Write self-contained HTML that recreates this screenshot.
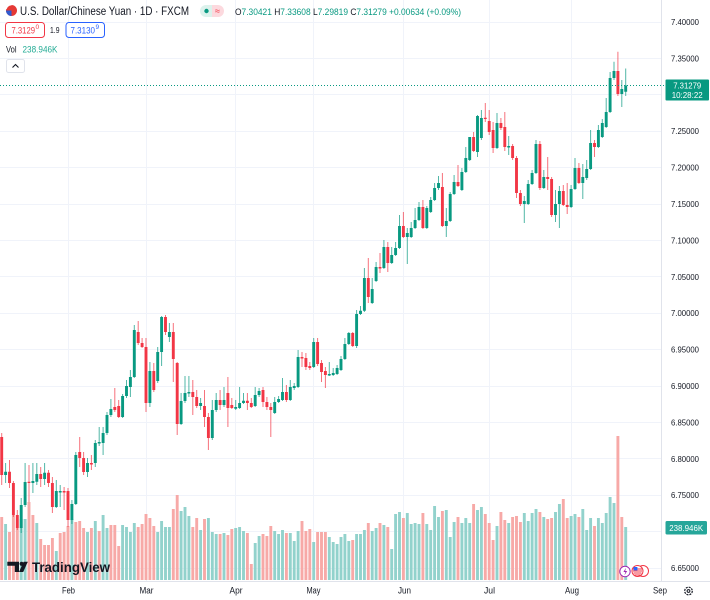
<!DOCTYPE html>
<html><head><meta charset="utf-8">
<style>
html,body{margin:0;padding:0;background:#fff;}
svg{display:block;font-family:"Liberation Sans",sans-serif;}
</style></head><body>
<svg width="710" height="600" viewBox="0 0 710 600" xmlns="http://www.w3.org/2000/svg">
<rect width="710" height="600" fill="#fff"/>
<g stroke="#f0f3fa" stroke-width="1" fill="none">
<path d="M0 22.5H661M0 58.5H661M0 94.5H661M0 131.5H661M0 167.5H661M0 204.5H661M0 240.5H661M0 276.5H661M0 313.5H661M0 349.5H661M0 386.5H661M0 422.5H661M0 458.5H661M0 495.5H661M0 531.5H661M0 568.5H661"/>
<path d="M68.5 0V581M146.5 0V581M235.5 0V581M313.5 0V581M403.5 0V581M489.5 0V581M571.5 0V581"/>
</g>
<path d="M661.5 0V581M0 581.5H710" stroke="#e0e3eb" stroke-width="1"/>

<path fill="#92d2cc" d="M4.15 524h2.9V580h-2.9zM19.75 519h2.9V580h-2.9zM23.65 519h2.9V580h-2.9zM35.35 523h2.9V580h-2.9zM54.85 551h2.9V580h-2.9zM70.45 519h2.9V580h-2.9zM86.05 532h2.9V580h-2.9zM93.85 521h2.9V580h-2.9zM101.65 515h2.9V580h-2.9zM105.55 528h2.9V580h-2.9zM121.15 525h2.9V580h-2.9zM125.05 527h2.9V580h-2.9zM128.95 532h2.9V580h-2.9zM132.85 523h2.9V580h-2.9zM156.25 532h2.9V580h-2.9zM160.15 521h2.9V580h-2.9zM164.05 527h2.9V580h-2.9zM167.95 527h2.9V580h-2.9zM179.65 511h2.9V580h-2.9zM183.55 507h2.9V580h-2.9zM187.45 516h2.9V580h-2.9zM199.15 530h2.9V580h-2.9zM206.95 518h2.9V580h-2.9zM210.85 532h2.9V580h-2.9zM214.75 534h2.9V580h-2.9zM222.55 533h2.9V580h-2.9zM234.25 528h2.9V580h-2.9zM238.15 527h2.9V580h-2.9zM242.05 531h2.9V580h-2.9zM253.75 543h2.9V580h-2.9zM257.65 536h2.9V580h-2.9zM273.25 531h2.9V580h-2.9zM277.15 534h2.9V580h-2.9zM281.05 530h2.9V580h-2.9zM288.85 533h2.9V580h-2.9zM292.75 541h2.9V580h-2.9zM296.65 531h2.9V580h-2.9zM312.25 542h2.9V580h-2.9zM327.85 537h2.9V580h-2.9zM331.75 542h2.9V580h-2.9zM335.65 544h2.9V580h-2.9zM339.55 537h2.9V580h-2.9zM343.45 534h2.9V580h-2.9zM347.35 541h2.9V580h-2.9zM355.15 534h2.9V580h-2.9zM359.05 534h2.9V580h-2.9zM362.95 530h2.9V580h-2.9zM370.75 531h2.9V580h-2.9zM374.65 528h2.9V580h-2.9zM382.45 525h2.9V580h-2.9zM390.25 549h2.9V580h-2.9zM394.15 514h2.9V580h-2.9zM398.05 512h2.9V580h-2.9zM405.85 513h2.9V580h-2.9zM409.75 524h2.9V580h-2.9zM413.65 523h2.9V580h-2.9zM417.55 524h2.9V580h-2.9zM425.35 524h2.9V580h-2.9zM429.25 530h2.9V580h-2.9zM433.15 506h2.9V580h-2.9zM437.05 517h2.9V580h-2.9zM444.85 510h2.9V580h-2.9zM448.75 537h2.9V580h-2.9zM452.65 522h2.9V580h-2.9zM460.45 523h2.9V580h-2.9zM464.35 518h2.9V580h-2.9zM468.25 523h2.9V580h-2.9zM476.05 510h2.9V580h-2.9zM479.95 507h2.9V580h-2.9zM495.55 526h2.9V580h-2.9zM507.25 523h2.9V580h-2.9zM522.85 513h2.9V580h-2.9zM526.75 521h2.9V580h-2.9zM530.65 513h2.9V580h-2.9zM534.55 509h2.9V580h-2.9zM542.35 517h2.9V580h-2.9zM554.05 512h2.9V580h-2.9zM557.95 504h2.9V580h-2.9zM569.65 516h2.9V580h-2.9zM573.55 514h2.9V580h-2.9zM581.35 509h2.9V580h-2.9zM585.25 530h2.9V580h-2.9zM589.15 518h2.9V580h-2.9zM596.95 518h2.9V580h-2.9zM600.85 523h2.9V580h-2.9zM604.75 513h2.9V580h-2.9zM608.65 497h2.9V580h-2.9zM612.55 503h2.9V580h-2.9zM624.25 527h2.9V580h-2.9z"/>
<path fill="#f7a9a7" d="M0.25 517h2.9V580h-2.9zM8.05 532h2.9V580h-2.9zM11.95 515h2.9V580h-2.9zM15.85 528h2.9V580h-2.9zM27.55 502h2.9V580h-2.9zM31.45 515h2.9V580h-2.9zM39.25 539h2.9V580h-2.9zM43.15 545h2.9V580h-2.9zM47.05 545h2.9V580h-2.9zM50.95 538h2.9V580h-2.9zM58.75 533h2.9V580h-2.9zM62.65 532h2.9V580h-2.9zM66.55 526h2.9V580h-2.9zM74.35 522h2.9V580h-2.9zM78.25 521h2.9V580h-2.9zM82.15 528h2.9V580h-2.9zM89.95 528h2.9V580h-2.9zM97.75 531h2.9V580h-2.9zM109.45 525h2.9V580h-2.9zM113.35 525h2.9V580h-2.9zM117.25 546h2.9V580h-2.9zM136.75 527h2.9V580h-2.9zM140.65 524h2.9V580h-2.9zM144.55 514h2.9V580h-2.9zM148.45 518h2.9V580h-2.9zM152.35 526h2.9V580h-2.9zM171.85 509h2.9V580h-2.9zM175.75 495h2.9V580h-2.9zM191.35 527h2.9V580h-2.9zM195.25 518h2.9V580h-2.9zM203.05 519h2.9V580h-2.9zM218.65 534h2.9V580h-2.9zM226.45 535h2.9V580h-2.9zM230.35 529h2.9V580h-2.9zM245.95 533h2.9V580h-2.9zM249.85 564h2.9V580h-2.9zM261.55 534h2.9V580h-2.9zM265.45 536h2.9V580h-2.9zM269.35 526h2.9V580h-2.9zM284.95 533h2.9V580h-2.9zM300.55 521h2.9V580h-2.9zM304.45 531h2.9V580h-2.9zM308.35 529h2.9V580h-2.9zM316.15 532h2.9V580h-2.9zM320.05 532h2.9V580h-2.9zM323.95 532h2.9V580h-2.9zM351.25 540h2.9V580h-2.9zM366.85 523h2.9V580h-2.9zM378.55 523h2.9V580h-2.9zM386.35 527h2.9V580h-2.9zM401.95 518h2.9V580h-2.9zM421.45 513h2.9V580h-2.9zM440.95 511h2.9V580h-2.9zM456.55 517h2.9V580h-2.9zM472.15 504h2.9V580h-2.9zM483.85 514h2.9V580h-2.9zM487.75 523h2.9V580h-2.9zM491.65 540h2.9V580h-2.9zM499.45 512h2.9V580h-2.9zM503.35 520h2.9V580h-2.9zM511.15 517h2.9V580h-2.9zM515.05 516h2.9V580h-2.9zM518.95 522h2.9V580h-2.9zM538.45 512h2.9V580h-2.9zM546.25 519h2.9V580h-2.9zM550.15 518h2.9V580h-2.9zM561.85 499h2.9V580h-2.9zM565.75 518h2.9V580h-2.9zM577.45 517h2.9V580h-2.9zM593.05 526h2.9V580h-2.9zM616.45 436h2.9V580h-2.9zM620.35 517h2.9V580h-2.9z"/>

<path stroke="#089981" stroke-opacity="0.7" stroke-width="1" fill="none" d="M5.6 463V483M21.2 498V533M25.1 463V507M32.9 463V493M36.8 463V485M44.6 463V485M56.3 480V508M60.2 485V507M71.9 500V524M75.8 452V505M87.5 458V477M95.3 440V467M99.2 427V446M103.1 427V455M107 412V435M110.9 399V417M122.6 394V418M126.5 380V398M130.4 370V397M134.3 325V378M149.9 362V407M157.7 347V383M161.6 316V366M169.4 323V342M181.1 393V425M185 376V403M188.9 376V397M200.6 398V410M212.3 400V440M216.2 393V412M224 387V407M235.7 400V410M239.6 387V409M243.5 393V404M255.2 387V407M259.1 388V397M274.7 397V414M278.6 396V403M282.5 378V401M290.3 380V401M294.2 383V390M298.1 350V388M313.7 338V368M329.3 362V376M333.2 368V376M337.1 365V375M341 356V371M344.9 338V360M348.8 332V345M356.6 310V348M360.5 306V315M364.4 268V312M372.2 278V304M376.1 262V282M383.9 240V269M391.7 247V264M395.6 242V256M399.5 215V249M407.3 228V264M411.2 222V238M415.1 208V229M419 202V221M426.8 206V229M430.7 197V213M434.6 183V201M438.5 176V190M446.3 208V237M450.2 192V222M454.1 175V195M461.9 168V191M465.8 147V173M469.7 137V161M477.5 115V157M481.4 110V140M497 113V149M508.7 136V155M524.3 196V223M528.2 180V205M532.1 170V185M536 140V174M543.8 170V189M555.5 190V222M559.4 186V228M571.1 185V208M575 158V190M582.8 164V199M586.7 160V180M590.6 130V170M598.4 125V148M602.3 119V138M606.2 98V128M610.1 72V113M614 61.7V80M621.8 80V107M625.7 68.5V96"/>
<path stroke="#f23645" stroke-opacity="0.7" stroke-width="1" fill="none" d="M1.7 433V485M9.5 460V488M13.4 481V517M17.3 510V530M29 465V502M40.7 467V487M48.5 470V487M52.4 477V513M64.1 487V510M68 488V527M79.7 437V467M83.6 452V475M91.4 455V470M114.8 388V412M118.7 400V418M138.2 321V345M142.1 338V348M146 338V412M153.8 363V392M165.5 315V335M173.3 323V382M177.2 362V435M192.8 380V415M196.7 390V408M204.5 390V427M208.4 413V450M220.1 390V410M227.9 377V427M231.8 398V409M247.4 393V410M251.3 398V408M263 387V407M266.9 397V410M270.8 403V437M286.4 385V402M302 352V367M305.9 353V370M309.8 362V370M317.6 338V366M321.5 360V382M325.4 367V388M352.7 332V347M368.3 258V303M380 253V273M387.8 242V272M403.4 212V238M422.9 200V229M442.4 173V227M458 165V187M473.6 132V152M485.3 103V122M489.2 110V135M493.1 122V153M500.9 118V130M504.8 112V151M512.6 144V160M516.5 156V198M520.4 190V206M539.9 141V190M547.7 157V190M551.6 177V217M563.3 185V206M567.2 183V214M578.9 163V184M594.5 140V157M617.9 51.7V96"/>

<path fill="#089981" d="M4.15 471.7h2.9V475h-2.9zM19.75 505h2.9V528h-2.9zM23.65 482h2.9V505h-2.9zM31.45 481h2.9V483h-2.9zM35.35 474h2.9V481.7h-2.9zM43.15 472.7h2.9V479h-2.9zM54.85 491h2.9V507h-2.9zM58.75 491h2.9V492.5h-2.9zM70.45 504h2.9V520h-2.9zM74.35 455h2.9V504h-2.9zM86.05 463h2.9V472h-2.9zM93.85 443h2.9V463h-2.9zM97.75 442h2.9V443.5h-2.9zM101.65 433h2.9V443h-2.9zM105.55 415h2.9V433h-2.9zM109.45 409h2.9V415h-2.9zM121.15 396h2.9V417h-2.9zM125.05 386h2.9V396h-2.9zM128.95 377h2.9V387h-2.9zM132.85 330h2.9V377h-2.9zM148.45 371h2.9V403h-2.9zM156.25 352h2.9V381h-2.9zM160.15 317h2.9V352h-2.9zM167.95 332h2.9V337h-2.9zM179.65 401h2.9V424h-2.9zM183.55 393h2.9V401h-2.9zM187.45 392h2.9V393.5h-2.9zM199.15 403h2.9V406h-2.9zM210.85 410h2.9V438h-2.9zM214.75 400h2.9V410h-2.9zM222.55 400h2.9V405h-2.9zM234.25 407h2.9V408.7h-2.9zM238.15 403h2.9V408h-2.9zM242.05 400.7h2.9V403h-2.9zM253.75 395h2.9V406h-2.9zM257.65 391h2.9V395h-2.9zM273.25 402h2.9V413h-2.9zM277.15 399h2.9V402h-2.9zM281.05 392h2.9V400h-2.9zM288.85 387h2.9V400h-2.9zM292.75 386h2.9V388h-2.9zM296.65 357h2.9V387h-2.9zM312.25 342h2.9V367h-2.9zM327.85 374h2.9V375.5h-2.9zM331.75 373h2.9V375h-2.9zM335.65 368h2.9V374h-2.9zM339.55 359h2.9V370h-2.9zM343.45 344h2.9V359h-2.9zM347.35 333h2.9V344h-2.9zM355.15 314h2.9V346h-2.9zM359.05 310.7h2.9V314h-2.9zM362.95 278h2.9V310.7h-2.9zM370.75 289h2.9V303h-2.9zM374.65 267h2.9V281h-2.9zM382.45 247h2.9V268h-2.9zM390.25 255h2.9V263h-2.9zM394.15 248h2.9V255h-2.9zM398.05 226h2.9V248h-2.9zM405.85 233h2.9V237h-2.9zM409.75 228h2.9V237h-2.9zM413.65 220h2.9V228h-2.9zM417.55 207h2.9V220h-2.9zM425.35 208h2.9V228h-2.9zM429.25 200h2.9V212h-2.9zM433.15 188h2.9V200h-2.9zM437.05 183h2.9V188h-2.9zM444.85 221h2.9V226h-2.9zM448.75 194h2.9V221h-2.9zM452.65 182h2.9V194h-2.9zM460.45 172h2.9V190h-2.9zM464.35 158h2.9V172h-2.9zM468.25 137h2.9V160h-2.9zM476.05 116h2.9V152h-2.9zM479.95 118h2.9V138h-2.9zM495.55 123h2.9V148h-2.9zM507.25 146h2.9V147.5h-2.9zM522.85 201h2.9V204h-2.9zM526.75 184h2.9V204h-2.9zM530.65 173h2.9V184h-2.9zM534.55 144h2.9V173h-2.9zM542.35 177h2.9V188h-2.9zM554.05 204h2.9V215h-2.9zM557.95 191h2.9V204h-2.9zM569.65 189h2.9V207h-2.9zM573.55 168h2.9V189h-2.9zM581.35 177h2.9V183h-2.9zM585.25 169h2.9V178h-2.9zM589.15 143h2.9V169h-2.9zM596.95 130h2.9V147h-2.9zM600.85 123h2.9V137h-2.9zM604.75 112h2.9V127h-2.9zM608.65 78h2.9V112h-2.9zM612.55 71h2.9V78h-2.9zM620.35 89h2.9V94h-2.9zM624.25 85.5h2.9V91.7h-2.9z"/>
<path fill="#f23645" d="M0.25 437h2.9V475h-2.9zM8.05 471.7h2.9V483h-2.9zM11.95 483h2.9V515h-2.9zM15.85 515h2.9V528h-2.9zM27.55 481.7h2.9V483h-2.9zM39.25 474h2.9V479h-2.9zM47.05 472.7h2.9V483h-2.9zM50.95 483h2.9V507h-2.9zM62.65 491h2.9V492.5h-2.9zM66.55 491h2.9V520h-2.9zM78.25 452h2.9V458h-2.9zM82.15 458h2.9V472h-2.9zM89.95 463h2.9V464.5h-2.9zM113.35 407h2.9V410h-2.9zM117.25 406h2.9V417h-2.9zM136.75 332h2.9V343h-2.9zM140.65 343h2.9V347h-2.9zM144.55 347h2.9V403h-2.9zM152.35 371h2.9V390h-2.9zM164.05 317h2.9V332h-2.9zM171.85 332h2.9V359h-2.9zM175.75 363h2.9V424h-2.9zM191.35 392h2.9V397h-2.9zM195.25 397h2.9V406h-2.9zM203.05 406h2.9V417h-2.9zM206.95 417h2.9V438h-2.9zM218.65 400h2.9V405h-2.9zM226.45 393h2.9V408h-2.9zM230.35 405h2.9V408h-2.9zM245.95 400.7h2.9V403h-2.9zM249.85 403h2.9V407h-2.9zM261.55 390h2.9V402h-2.9zM265.45 402h2.9V407h-2.9zM269.35 407h2.9V410h-2.9zM284.95 392h2.9V400h-2.9zM300.55 357h2.9V358.5h-2.9zM304.45 358h2.9V367h-2.9zM308.35 366h2.9V368h-2.9zM316.15 342h2.9V364h-2.9zM320.05 363h2.9V372h-2.9zM323.95 371h2.9V375h-2.9zM351.25 333h2.9V346h-2.9zM366.85 278h2.9V297h-2.9zM378.55 267h2.9V268.5h-2.9zM386.35 247h2.9V263h-2.9zM401.95 226h2.9V237h-2.9zM421.45 207h2.9V228h-2.9zM440.95 187h2.9V226h-2.9zM456.55 182h2.9V186h-2.9zM472.15 137h2.9V151h-2.9zM483.85 117.7h2.9V119h-2.9zM487.75 121h2.9V132h-2.9zM491.65 130h2.9V148h-2.9zM499.45 123h2.9V128h-2.9zM503.35 127h2.9V147h-2.9zM511.15 146h2.9V158h-2.9zM515.05 158h2.9V193h-2.9zM518.95 193h2.9V204h-2.9zM538.45 144h2.9V188h-2.9zM546.25 177h2.9V179h-2.9zM550.15 179h2.9V215h-2.9zM561.85 191h2.9V205h-2.9zM565.75 205h2.9V207h-2.9zM577.45 168h2.9V183h-2.9zM593.05 143h2.9V147h-2.9zM616.45 71h2.9V94h-2.9z"/>

<line x1="0" y1="85.5" x2="664" y2="85.5" stroke="#089981" stroke-width="1" stroke-dasharray="1 2"/>

<g font-size="8.5" fill="#131722">
<text x="671" y="25" textLength="28" lengthAdjust="spacingAndGlyphs">7.40000</text>
<text x="671" y="61.4" textLength="28" lengthAdjust="spacingAndGlyphs">7.35000</text>
<text x="671" y="134.2" textLength="28" lengthAdjust="spacingAndGlyphs">7.25000</text>
<text x="671" y="170.6" textLength="28" lengthAdjust="spacingAndGlyphs">7.20000</text>
<text x="671" y="207" textLength="28" lengthAdjust="spacingAndGlyphs">7.15000</text>
<text x="671" y="243.4" textLength="28" lengthAdjust="spacingAndGlyphs">7.10000</text>
<text x="671" y="279.8" textLength="28" lengthAdjust="spacingAndGlyphs">7.05000</text>
<text x="671" y="316.2" textLength="28" lengthAdjust="spacingAndGlyphs">7.00000</text>
<text x="671" y="352.6" textLength="28" lengthAdjust="spacingAndGlyphs">6.95000</text>
<text x="671" y="389" textLength="28" lengthAdjust="spacingAndGlyphs">6.90000</text>
<text x="671" y="425.4" textLength="28" lengthAdjust="spacingAndGlyphs">6.85000</text>
<text x="671" y="461.8" textLength="28" lengthAdjust="spacingAndGlyphs">6.80000</text>
<text x="671" y="498.2" textLength="28" lengthAdjust="spacingAndGlyphs">6.75000</text>
<text x="671" y="534.6" textLength="28" lengthAdjust="spacingAndGlyphs">6.70000</text>
<text x="671" y="571" textLength="28" lengthAdjust="spacingAndGlyphs">6.65000</text>
</g>

<rect x="665.5" y="79.5" width="43.5" height="21" rx="1" fill="#089981"/>
<text x="687.2" y="88.3" font-size="8.5" fill="#fff" text-anchor="middle" textLength="28" lengthAdjust="spacingAndGlyphs">7.31279</text>
<text x="687.2" y="97.8" font-size="8.5" fill="#fff" text-anchor="middle" textLength="31" lengthAdjust="spacingAndGlyphs">10:28:22</text>

<rect x="665.5" y="521" width="41.5" height="13.5" rx="1.5" fill="#26a69a"/>
<text x="686.2" y="531" font-size="8.5" fill="#fff" text-anchor="middle" textLength="34" lengthAdjust="spacingAndGlyphs">238.946K</text>

<g font-size="9" fill="#131722" text-anchor="middle">
<text x="68.5" y="593.5" textLength="13" lengthAdjust="spacingAndGlyphs">Feb</text>
<text x="146.5" y="593.5" textLength="14" lengthAdjust="spacingAndGlyphs">Mar</text>
<text x="236" y="593.5" textLength="13" lengthAdjust="spacingAndGlyphs">Apr</text>
<text x="313.5" y="593.5" textLength="14" lengthAdjust="spacingAndGlyphs">May</text>
<text x="404.5" y="593.5" textLength="13" lengthAdjust="spacingAndGlyphs">Jun</text>
<text x="489.5" y="593.5" textLength="11" lengthAdjust="spacingAndGlyphs">Jul</text>
<text x="572" y="593.5" textLength="14" lengthAdjust="spacingAndGlyphs">Aug</text>
<text x="660" y="593.5" textLength="14" lengthAdjust="spacingAndGlyphs">Sep</text>
</g>
<circle cx="688.5" cy="591" r="3.8" fill="none" stroke="#131722" stroke-width="1.2" stroke-dasharray="2 1"/>
<circle cx="688.5" cy="591" r="1.4" fill="none" stroke="#131722" stroke-width="1"/>

<!-- header -->
<circle cx="11.5" cy="10.5" r="5.5" fill="#e53935"/>
<path d="M6 10.5a5.5 5.5 0 0 0 5.5 5.5V10.5z" fill="#2f5bd0"/>
<path d="M6.2 9.2a5.5 5.5 0 0 1 5.3 -4.2" stroke="#fff" stroke-width="0.8" fill="none"/>
<text x="20" y="15" font-size="11.5" fill="#131722" textLength="169" lengthAdjust="spacingAndGlyphs">U.S. Dollar/Chinese Yuan · 1D · FXCM</text>
<path d="M206 5h6v12h-6a6 6 0 0 1 0-12z" fill="#dcf2ec"/>
<path d="M212 5h6a6 6 0 0 1 0 12h-6z" fill="#fcd9de"/>
<circle cx="206.5" cy="11" r="2.2" fill="#089981"/>
<text x="217.5" y="13.8" font-size="9" fill="#f23645" text-anchor="middle">≈</text>
<text x="235" y="15" font-size="9.5" fill="#089981" textLength="226" lengthAdjust="spacingAndGlyphs"><tspan fill="#131722">O</tspan>7.30421 <tspan fill="#131722">H</tspan>7.33608 <tspan fill="#131722">L</tspan>7.29819 <tspan fill="#131722">C</tspan>7.31279 +0.00634 (+0.09%)</text>

<rect x="5.5" y="22.5" width="39" height="15" rx="3" fill="#fff" stroke="#f23645" stroke-width="1"/>
<text x="11.5" y="33.3" font-size="9.5" fill="#f23645" textLength="23.5" lengthAdjust="spacingAndGlyphs">7.3129</text>
<text x="35.5" y="29" font-size="6.5" fill="#f23645">0</text>
<text x="50" y="33" font-size="8.5" fill="#131722" textLength="9.5" lengthAdjust="spacingAndGlyphs">1.9</text>
<rect x="66" y="22.5" width="38.5" height="15" rx="3" fill="#fff" stroke="#2962ff" stroke-width="1"/>
<text x="70.5" y="33.3" font-size="9.5" fill="#2962ff" textLength="24.5" lengthAdjust="spacingAndGlyphs">7.3130</text>
<text x="95.5" y="29" font-size="6.5" fill="#2962ff">9</text>

<text x="6" y="52.5" font-size="9" fill="#131722" textLength="10.5" lengthAdjust="spacingAndGlyphs">Vol</text>
<text x="22.5" y="52.5" font-size="9" fill="#22ab94" textLength="35" lengthAdjust="spacingAndGlyphs">238.946K</text>

<rect x="6.5" y="59.5" width="18" height="13" rx="2" fill="#fff" stroke="#e0e3eb" stroke-width="1"/>
<polyline points="12.5,67.5 15.5,64.5 18.5,67.5" fill="none" stroke="#131722" stroke-width="1.1"/>

<!-- TradingView logo -->
<path d="M7.3 561.7h11.7v10.3h-4.2v-6.3h-7.5z" fill="#131722"/>
<circle cx="21.6" cy="563.8" r="2.1" fill="#131722"/>
<path d="M23.6 561.7h4.2l-4.6 10.3h-4.2z" fill="#131722"/>
<text x="32" y="572" font-size="14" font-weight="bold" fill="#131722" textLength="78" lengthAdjust="spacingAndGlyphs">TradingView</text>

<!-- event icons -->
<circle cx="625" cy="571.5" r="5.2" fill="#fff" stroke="#9c27b0" stroke-width="1"/>
<path d="M626 567.8l-2.6 4.2h2l-1 3.4 2.8-4.4h-2z" fill="#9c27b0"/>
<circle cx="643" cy="571" r="5.5" fill="#fff" stroke="#f23645" stroke-width="1"/>
<circle cx="637.5" cy="571" r="5.5" fill="#fff" stroke="#f23645" stroke-width="1"/>
<path d="M633 569h9M633 571h9M633.5 573h8M634.5 575h6" stroke="#f23645" stroke-width="1"/>
<rect x="633.6" y="567" width="3.8" height="3.4" fill="#2962ff"/>
</svg>
</body></html>
